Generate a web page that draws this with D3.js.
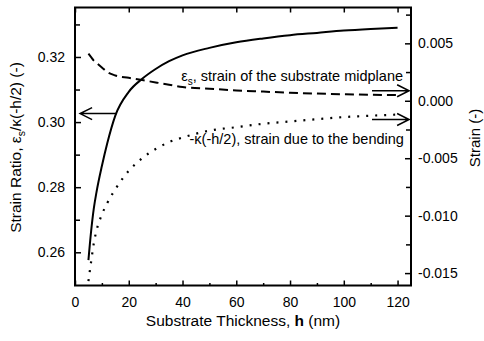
<!DOCTYPE html>
<html>
<head>
<meta charset="utf-8">
<script src="https://cdn.jsdelivr.net/npm/d3@7"></script>
<style>
  body { margin: 0; background: #fff; }
  text { font-family: "Liberation Sans", Arial, sans-serif; fill: #000; }
</style>
</head>
<body>
<div id="chart"></div>
<script>
// substrate thickness h (nm)
const thickness = [5, 6, 7, 8, 10, 12, 15, 20, 25, 30, 35, 40, 50, 60, 70, 80, 90, 100, 110, 120]
// strain ratio eps_s / kappa(-h/2)  (left axis)
const strainRatio = [0.2576, 0.2665, 0.2735, 0.2785, 0.2865, 0.2935, 0.3020, 0.3093, 0.3133, 0.3163,
    0.3187, 0.3205, 0.3228, 0.3245, 0.3257, 0.3267, 0.3274, 0.3281, 0.3286, 0.3290]
// eps_s, strain of the substrate midplane (right axis)
const midplaneStrain = [0.0041, 0.0038, 0.0035, 0.0033, 0.0029, 0.0025, 0.0022, 0.0020, 0.0018, 0.0016,
    0.0014, 0.0012, 0.00105, 0.0009, 0.0008, 0.0007, 0.00063, 0.00057, 0.00052, 0.0005]
// -kappa(-h/2), strain due to the bending (right axis)
const bendingStrain = [-0.0157, -0.0140, -0.0124, -0.0113, -0.0099, -0.0089, -0.0077, -0.0061, -0.0050, -0.0042,
    -0.0036, -0.0032, -0.0026, -0.0023, -0.0020, -0.0018, -0.0016, -0.00142, -0.0013, -0.0012]

const xTicks = [0, 20, 40, 60, 80, 100, 120]
const xMinor = [10, 30, 50, 70, 90, 110]
const ratioTicks = [0.26, 0.28, 0.30, 0.32]
const ratioMinor = [0.27, 0.29, 0.31, 0.33]
const strainTicks = [-0.015, -0.010, -0.005, 0.000, 0.005]
const strainMinor = [-0.0125, -0.0075, -0.0025, 0.0025, 0.0075]

// arrows pointing to the axis each curve belongs to (data space)
const arrows = [
    { axis: 'left', y: 0.3026, from: 15.5, to: 1.9 },
    { axis: 'right', y: 0.00087, from: 110.5, to: 124.3 },
    { axis: 'right', y: -0.00163, from: 110.5, to: 124.3 }
]

const svgWidth = 484
const svgHeight = 341
const margin = { left: 75, right: 73, top: 7.5, bottom: 55.5 }
const width = svgWidth - margin.left - margin.right
const height = svgHeight - margin.top - margin.bottom

const svg = d3.select('#chart')
    .append('svg')
    .attr('width', svgWidth)
    .attr('height', svgHeight)

const g = svg.append('g')
    .attr('transform', `translate(${margin.left},${margin.top})`)

////////////// scales //////////////
const x = d3.scaleLinear().domain([0, 125]).range([0, width])
const yL = d3.scaleLinear().domain([0.2498, 0.3352]).range([height, 0])
const yR = d3.scaleLinear().domain([-0.01608, 0.00812]).range([height, 0])

////////////// axes //////////////
const tickFont = 14

// bottom
g.append('g')
    .attr('transform', `translate(0,${height})`)
    .call(d3.axisBottom(x).tickValues(xTicks).tickSizeInner(-5).tickSizeOuter(0).tickPadding(12))
    .call(a => a.select('.domain').remove())
    .call(a => a.selectAll('text').attr('font-size', tickFont).attr('font-family', null))
g.append('g')
    .attr('transform', `translate(0,${height})`)
    .call(d3.axisBottom(x).tickValues(xMinor).tickSizeInner(-2.5).tickSizeOuter(0).tickFormat(''))
    .call(a => a.select('.domain').remove())
// top
g.append('g')
    .call(d3.axisTop(x).tickValues(xTicks).tickSizeInner(-5).tickSizeOuter(0).tickFormat(''))
    .call(a => a.select('.domain').remove())

// left
g.append('g')
    .call(d3.axisLeft(yL).tickValues(ratioTicks).tickSizeInner(-6).tickSizeOuter(0).tickPadding(10).tickFormat(d3.format('.2f')))
    .call(a => a.select('.domain').remove())
    .call(a => a.selectAll('text').attr('font-size', tickFont).attr('font-family', null))
g.append('g')
    .call(d3.axisLeft(yL).tickValues(ratioMinor).tickSizeInner(-5).tickSizeOuter(0).tickFormat(''))
    .call(a => a.select('.domain').remove())

// right
g.append('g')
    .attr('transform', `translate(${width},0)`)
    .call(d3.axisRight(yR).tickValues(strainTicks).tickSizeInner(-6).tickSizeOuter(0).tickPadding(7).tickFormat(d3.format('.3f')))
    .call(a => a.select('.domain').remove())
    .call(a => a.selectAll('text').attr('font-size', tickFont).attr('font-family', null))
g.append('g')
    .attr('transform', `translate(${width},0)`)
    .call(d3.axisRight(yR).tickValues(strainMinor).tickSizeInner(-5).tickSizeOuter(0).tickFormat(''))
    .call(a => a.select('.domain').remove())

g.selectAll('.tick line').attr('stroke', '#000').attr('stroke-width', 1.5)
g.selectAll('.tick text').attr('fill', '#000').text(function () {
    return d3.select(this).text().replace('\u2212', '-')
})

////////////// curves //////////////
g.append('clipPath').attr('id', 'plot-clip')
    .append('rect').attr('width', width).attr('height', height)

const plot = g.append('g').attr('clip-path', 'url(#plot-clip)')

const ratioLine = d3.line()
    .x((d, i) => x(thickness[i]))
    .y(d => yL(d))
    .curve(d3.curveMonotoneX)
const strainLine = d3.line()
    .x((d, i) => x(thickness[i]))
    .y(d => yR(d))
    .curve(d3.curveMonotoneX)

plot.append('path')
    .attr('d', ratioLine(strainRatio))
    .attr('fill', 'none')
    .attr('stroke', '#000')
    .attr('stroke-width', 2)

plot.append('path')
    .attr('d', strainLine(midplaneStrain))
    .attr('fill', 'none')
    .attr('stroke', '#000')
    .attr('stroke-width', 2)
    .attr('stroke-dasharray', '9,5')

plot.append('path')
    .attr('d', strainLine(bendingStrain))
    .attr('fill', 'none')
    .attr('stroke', '#000')
    .attr('stroke-width', 2.2)
    .attr('stroke-dasharray', '2,7')

////////////// arrows //////////////
g.append('g')
    .selectAll('path')
    .data(arrows)
    .join('path')
    .attr('fill', 'none')
    .attr('stroke', '#000')
    .attr('stroke-width', 1.5)
    .attr('d', d => {
        const yy = d.axis === 'left' ? yL(d.y) : yR(d.y)
        const x0 = x(d.from), x1 = x(d.to)
        const dir = x1 > x0 ? -1 : 1
        return `M${x0},${yy}L${x1},${yy}M${x1 + dir * 12},${yy - 6}L${x1},${yy}L${x1 + dir * 12},${yy + 6}`
    })

////////////// annotations //////////////
const upper = g.append('text')
    .attr('x', x(39.5))
    .attr('y', yR(0.00172))
    .attr('font-size', 14.5)
upper.append('tspan').text('\u03b5')
upper.append('tspan').attr('font-size', 10).attr('dy', 4).text('s')
upper.append('tspan').attr('dy', -4).text(', strain of the substrate midplane')

g.append('text')
    .attr('x', x(42.6))
    .attr('y', yR(-0.00377))
    .attr('font-size', 14.5)
    .text('-\u03ba(-h/2), strain due to the bending')

////////////// frame //////////////
g.append('rect')
    .attr('width', width)
    .attr('height', height)
    .attr('fill', 'none')
    .attr('stroke', '#000')
    .attr('stroke-width', 2)

////////////// axis titles //////////////
const xTitle = svg.append('text')
    .attr('x', margin.left + x(62.5))
    .attr('y', 326)
    .attr('text-anchor', 'middle')
    .attr('font-size', 15.5)
xTitle.append('tspan').text('Substrate Thickness, ')
xTitle.append('tspan').attr('font-weight', 'bold').text('h')
xTitle.append('tspan').text(' (nm)')

const yTitle = svg.append('text')
    .attr('transform', `translate(21,${margin.top + height / 2 + 1}) rotate(-90)`)
    .attr('text-anchor', 'middle')
    .attr('font-size', 15.5)
yTitle.append('tspan').text('Strain Ratio, \u03b5')
yTitle.append('tspan').attr('font-size', 10.5).attr('dy', 4).text('s')
yTitle.append('tspan').attr('dy', -4).text('/\u03ba(-h/2) (-)')

svg.append('text')
    .attr('transform', `translate(480,138) rotate(-90)`)
    .attr('text-anchor', 'middle')
    .attr('font-size', 15)
    .text('Strain (-)')
</script>
</body>
</html>
